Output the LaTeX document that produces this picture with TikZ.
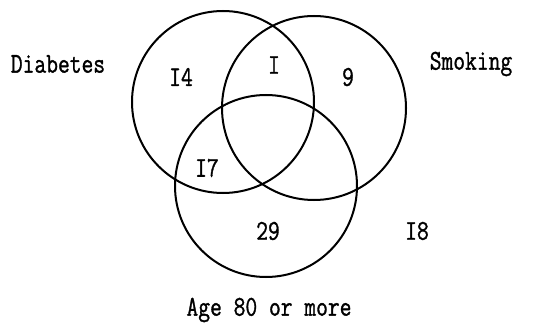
\documentclass[tikz,border=0pt]{standalone}
\usepackage{fontspec}
\usepackage{graphicx}
\newfontfamily\vennfont[FakeBold=1.3]{Latin Modern Mono}
\newcommand{\vt}[1]{\scalebox{0.8}[1]{#1}}
\begin{document}
\begin{tikzpicture}[x=1pt,y=-1pt,
  ring/.style={draw=black,line width=2pt},
  lbl/.style={font=\fontsize{28.6}{32}\selectfont\vennfont,inner sep=0pt,text=black}]
\useasboundingbox (0,0) rectangle (543,323);
\draw[ring] (223,102) circle[radius=91];
\draw[ring] (314,108) circle[radius=92];
\draw[ring] (266,186) circle[radius=91];
\node[lbl] (diab) at (58,64) {\vt{Diabetes}};
\node[lbl] (smok) at (471,64) {\vt{Smoking}};
\node[lbl] (age) at (269,310) {\vt{Age 80 or more}};
\node[lbl] (a) at (181,77) {\vt{I4}};
\node[lbl] (b) at (274,65) {\vt{I}};
\node[lbl] (c) at (348,77) {\vt{9}};
\node[lbl] (d) at (207,168) {\vt{I7}};
\node[lbl] (e) at (268,231) {\vt{29}};
\node[lbl] (f) at (417,231) {\vt{I8}};
\end{tikzpicture}
\end{document}
